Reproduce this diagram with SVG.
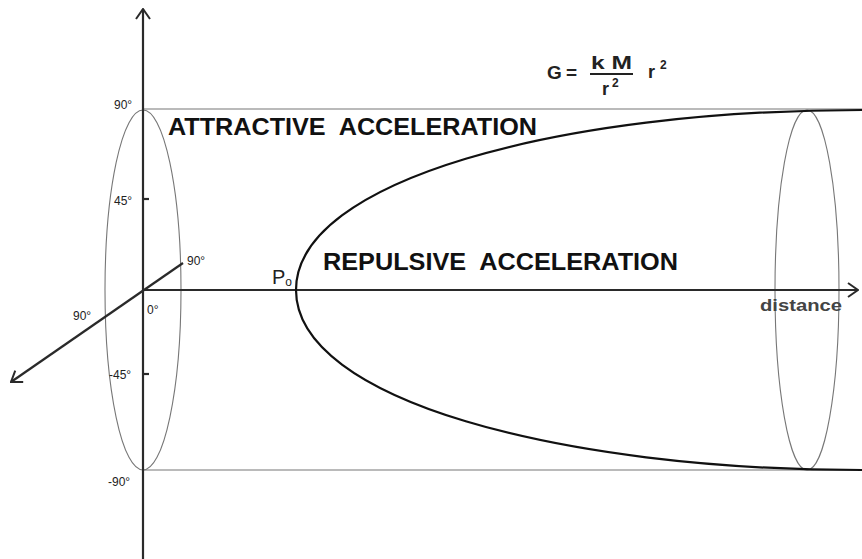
<svg xmlns="http://www.w3.org/2000/svg" width="862" height="559" viewBox="0 0 862 559">
<defs>
<style>
.thin{fill:none;stroke:#777;stroke-width:1.1}
.axis{fill:none;stroke:#2a2a2a;stroke-width:2.2}
.curve{fill:none;stroke:#111;stroke-width:2.2}
.lbl{font-family:"Liberation Sans",Arial,sans-serif;font-size:12px;fill:#222}
.big{font-family:"Liberation Sans",Arial,sans-serif;font-size:24px;font-weight:bold;fill:#111;white-space:pre}
.eq{font-family:"Liberation Sans",Arial,sans-serif;font-weight:bold;fill:#222}
</style>
<marker id="open" viewBox="0 0 12 16" refX="11" refY="8" markerWidth="12" markerHeight="16" markerUnits="userSpaceOnUse" orient="auto">
<path d="M1,1 L11,8 L1,15" fill="none" stroke="#2a2a2a" stroke-width="2"/>
</marker>
</defs>
<rect width="862" height="559" fill="#fff"/>
<g id="guides">
<line class="thin" x1="143" y1="109" x2="862" y2="109"/>
<line class="thin" x1="143" y1="470" x2="862" y2="470"/>
<ellipse class="thin" cx="143" cy="290" rx="38" ry="180"/>
<ellipse class="thin" cx="807" cy="290" rx="32" ry="180"/>
</g>
<g id="connectors">
<line class="axis" x1="143" y1="559" x2="143" y2="9" marker-end="url(#open)"/>
<line class="axis" x1="143" y1="290" x2="858" y2="290" marker-end="url(#open)"/>
<line class="axis" x1="183" y1="263" x2="11" y2="382" marker-end="url(#open)"/>
<line class="axis" x1="143" y1="199" x2="149" y2="199" stroke-width="1.5"/>
<line class="axis" x1="143" y1="374" x2="149" y2="374" stroke-width="1.5"/>
</g>
<g id="curve">
<path class="curve" d="M862,110 C560,110 296,180 296,290 C296,400 560,470 862,470"/>
</g>
<g id="labels">
<text class="lbl" x="114" y="109">90°</text>
<text class="lbl" x="114" y="205">45°</text>
<text class="lbl" x="187" y="265">90°</text>
<text class="lbl" x="73" y="320">90°</text>
<text class="lbl" x="147" y="314" font-size="14">0°</text>
<text class="lbl" x="109" y="379">-45°</text>
<text class="lbl" x="108" y="486">-90°</text>
<text x="272" y="284" font-family="'Liberation Sans',Arial,sans-serif" font-size="20" fill="#222">P<tspan font-size="12" dy="2">o</tspan></text>
<text class="big" x="168" y="135" textLength="369" lengthAdjust="spacingAndGlyphs">ATTRACTIVE  ACCELERATION</text>
<text class="big" x="323" y="270" textLength="355" lengthAdjust="spacingAndGlyphs">REPULSIVE  ACCELERATION</text>
<text x="760" y="311" font-family="'Liberation Sans',Arial,sans-serif" font-size="17" font-weight="bold" fill="#444" textLength="82" lengthAdjust="spacingAndGlyphs">distance</text>
</g>
<g id="formula">
<text class="eq" x="547" y="79" font-size="19">G</text>
<text class="eq" x="566" y="79" font-size="19">=</text>
<text class="eq" x="591" y="69" font-size="18" textLength="41" lengthAdjust="spacingAndGlyphs">k M</text>
<line x1="590" y1="74" x2="633" y2="74" stroke="#222" stroke-width="2.2"/>
<text class="eq" x="602" y="95" font-size="18">r<tspan font-size="12" dy="-8" dx="3">2</tspan></text>
<text class="eq" x="648" y="78" font-size="18">r<tspan font-size="12" dy="-9" dx="5">2</tspan></text>
</g>
</svg>
